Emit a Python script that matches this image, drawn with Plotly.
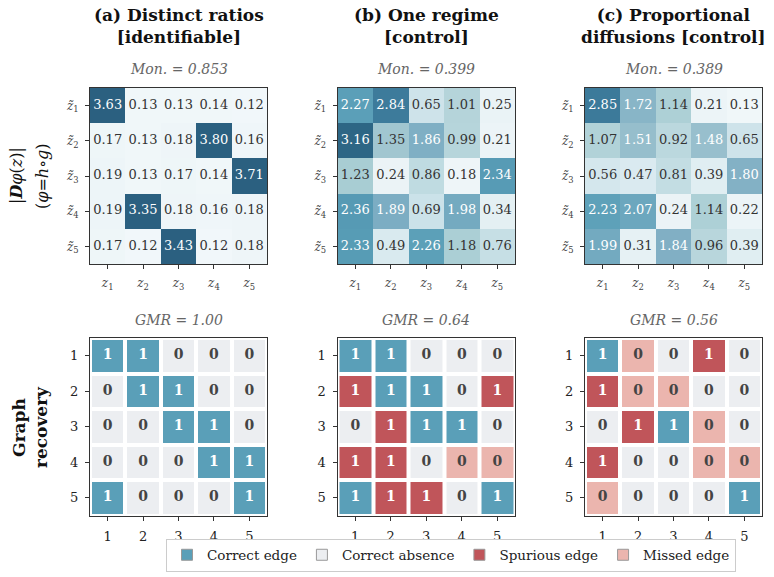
import plotly.graph_objects as go

# ---------------- data ----------------
titles = ["(a) Distinct ratios<br>[identifiable]",
          "(b) One regime<br>[control]",
          "(c) Proportional<br>diffusions [control]"]
mon_scores = [0.853, 0.399, 0.389]
gmr_scores = [1.00, 0.64, 0.56]

jac_a = [[3.63, 0.13, 0.13, 0.14, 0.12],
         [0.17, 0.13, 0.18, 3.80, 0.16],
         [0.19, 0.13, 0.17, 0.14, 3.71],
         [0.19, 3.35, 0.18, 0.16, 0.18],
         [0.17, 0.12, 3.43, 0.12, 0.18]]
jac_b = [[2.27, 2.84, 0.65, 1.01, 0.25],
         [3.16, 1.35, 1.86, 0.99, 0.21],
         [1.23, 0.24, 0.86, 0.18, 2.34],
         [2.36, 1.89, 0.69, 1.98, 0.34],
         [2.33, 0.49, 2.26, 1.18, 0.76]]
jac_c = [[2.85, 1.72, 1.14, 0.21, 0.13],
         [1.07, 1.51, 0.92, 1.48, 0.65],
         [0.56, 0.47, 0.81, 0.39, 1.80],
         [2.23, 2.07, 0.24, 1.14, 0.22],
         [1.99, 0.31, 1.84, 0.96, 0.39]]
jacobians = [jac_a, jac_b, jac_c]

true_graph = [[1, 1, 0, 0, 0],
              [0, 1, 1, 0, 0],
              [0, 0, 1, 1, 0],
              [0, 0, 0, 1, 1],
              [1, 0, 0, 0, 1]]
pred_a = [[1, 1, 0, 0, 0],
          [0, 1, 1, 0, 0],
          [0, 0, 1, 1, 0],
          [0, 0, 0, 1, 1],
          [1, 0, 0, 0, 1]]
pred_b = [[1, 1, 0, 0, 0],
          [1, 1, 1, 0, 1],
          [0, 1, 1, 1, 0],
          [1, 1, 0, 0, 0],
          [1, 1, 1, 0, 1]]
pred_c = [[1, 0, 0, 1, 0],
          [1, 0, 0, 0, 0],
          [0, 1, 1, 0, 0],
          [1, 0, 0, 0, 0],
          [0, 0, 0, 0, 1]]
predictions = [pred_a, pred_b, pred_c]

idx = [1, 2, 3, 4, 5]
top_xticks = ["<i>z</i><sub>%d</sub>" % i for i in idx]
top_yticks = ["<i>z̃</i><sub>%d</sub>" % i for i in idx]
bot_ticks = [str(i) for i in idx]
legend_names = ["Correct edge", "Correct absence", "Spurious edge", "Missed edge"]

# ---------------- styling ----------------
W, H = 774, 577
FONT = "DejaVu Serif"
C_EDGE = "#5a9fb8"
C_ABS = "#eceef1"
C_SPUR = "#c0555a"
C_MISS = "#ebb5ae"
cat_colors = [C_EDGE, C_ABS, C_SPUR, C_MISS]  # codes 0..3

blues = [[0.0, "#f7fbfd"], [0.076, "#eaf3f6"], [0.2, "#cde3ea"], [0.3, "#b6d5db"],
         [0.373, "#a8cdd3"], [0.45, "#98bfcd"], [0.56, "#80afc4"], [0.69, "#5a9fb8"],
         [0.86, "#3d7b9b"], [0.96, "#2d6584"], [1.0, "#2b6080"]]
cat_scale = []
for k, c in enumerate(cat_colors):
    cat_scale += [[k / 4, c], [(k + 1) / 4, c]]

xdom = [(90, 267), (337.5, 515), (585, 762)]
ytop = (88, 264)
ybot = (338, 515.5)


def px(a, b):
    return [a / W, b / W]


def py(a, b):
    return [1 - b / H, 1 - a / H]


fig = go.Figure()

axis_common = dict(showgrid=False, zeroline=False, ticks="outside", ticklen=4,
                   tickcolor="#333", showline=True, mirror=True, linecolor="#333",
                   linewidth=1, tickmode="array", tickvals=idx, range=[0.5, 5.5],
                   fixedrange=True)

for p in range(3):
    n_top = p + 1
    n_bot = p + 4
    xa_t = "x" if n_top == 1 else "x%d" % n_top
    ya_t = "y" if n_top == 1 else "y%d" % n_top
    xa_b = "x%d" % n_bot
    ya_b = "y%d" % n_bot
    J = jacobians[p]
    fig.add_trace(go.Heatmap(z=J, x=idx, y=idx, colorscale=blues, zmin=0, zmax=3.3,
                             showscale=False, xaxis=xa_t, yaxis=ya_t, hoverinfo="skip"))
    tx_w, ty_w, tt_w, tx_d, ty_d, tt_d = [], [], [], [], [], []
    for r in range(5):
        for c in range(5):
            v = J[r][c]
            if v > 1.45:
                tx_w.append(c + 1); ty_w.append(r + 1); tt_w.append("%.2f" % v)
            else:
                tx_d.append(c + 1); ty_d.append(r + 1); tt_d.append("%.2f" % v)
    fig.add_trace(go.Scatter(x=tx_w, y=ty_w, text=tt_w, mode="text", showlegend=False,
                             textfont=dict(family=FONT, size=13, color="white"),
                             xaxis=xa_t, yaxis=ya_t, hoverinfo="skip"))
    fig.add_trace(go.Scatter(x=tx_d, y=ty_d, text=tt_d, mode="text", showlegend=False,
                             textfont=dict(family=FONT, size=13, color="#333"),
                             xaxis=xa_t, yaxis=ya_t, hoverinfo="skip"))

    P = predictions[p]
    cats = []
    for r in range(5):
        row = []
        for c in range(5):
            t, q = true_graph[r][c], P[r][c]
            if t == 1 and q == 1:
                row.append(0)
            elif t == 0 and q == 0:
                row.append(1)
            elif t == 0 and q == 1:
                row.append(2)
            else:
                row.append(3)
        cats.append(row)
    fig.add_trace(go.Heatmap(z=cats, x=idx, y=idx, colorscale=cat_scale, zmin=-0.5, zmax=3.5,
                             showscale=False, xgap=4, ygap=4, xaxis=xa_b, yaxis=ya_b,
                             hoverinfo="skip"))
    bx_w, by_w, bt_w, bx_d, by_d, bt_d = [], [], [], [], [], []
    for r in range(5):
        for c in range(5):
            if cats[r][c] in (0, 2):
                bx_w.append(c + 1); by_w.append(r + 1); bt_w.append("<b>%d</b>" % P[r][c])
            else:
                bx_d.append(c + 1); by_d.append(r + 1); bt_d.append("<b>%d</b>" % P[r][c])
    fig.add_trace(go.Scatter(x=bx_w, y=by_w, text=bt_w, mode="text", showlegend=False,
                             textfont=dict(family=FONT, size=14, color="white"),
                             xaxis=xa_b, yaxis=ya_b, hoverinfo="skip"))
    fig.add_trace(go.Scatter(x=bx_d, y=by_d, text=bt_d, mode="text", showlegend=False,
                             textfont=dict(family=FONT, size=14, color="#444"),
                             xaxis=xa_b, yaxis=ya_b, hoverinfo="skip"))

    key_xt = "xaxis" if n_top == 1 else "xaxis%d" % n_top
    key_yt = "yaxis" if n_top == 1 else "yaxis%d" % n_top
    fig.layout[key_xt] = dict(axis_common, domain=px(*xdom[p]), anchor=ya_t,
                              ticktext=top_xticks, ticklabelstandoff=4,
                              tickfont=dict(family=FONT, size=12, color="#444"))
    fig.layout[key_yt] = dict(axis_common, domain=py(*ytop), anchor=xa_t,
                              ticktext=top_yticks, autorange=False, range=[5.5, 0.5],
                              ticklabelstandoff=4,
                              tickfont=dict(family=FONT, size=12, color="#444"))
    fig.layout["xaxis%d" % n_bot] = dict(axis_common, domain=px(*xdom[p]), anchor=ya_b,
                                         ticktext=bot_ticks, ticklabelstandoff=5,
                                         tickfont=dict(family=FONT, size=13, color="#222"))
    fig.layout["yaxis%d" % n_bot] = dict(axis_common, domain=py(*ybot), anchor=xa_b,
                                         ticktext=bot_ticks, autorange=False, range=[5.5, 0.5],
                                         ticklabelstandoff=4,
                                         tickfont=dict(family=FONT, size=13, color="#222"))

    cx = (xdom[p][0] + xdom[p][1]) / 2 / W
    fig.add_annotation(x=cx, y=1 - 26 / H, xref="paper", yref="paper", showarrow=False,
                       text="<b>%s</b>" % titles[p], xanchor="center", yanchor="middle",
                       font=dict(family=FONT, size=17, color="#111"))
    fig.add_annotation(x=cx, y=1 - 69 / H, xref="paper", yref="paper", showarrow=False,
                       text="<i>Mon. = %.3f</i>" % mon_scores[p], xanchor="center",
                       yanchor="middle", font=dict(family=FONT, size=14, color="#666"))
    fig.add_annotation(x=cx, y=1 - 320 / H, xref="paper", yref="paper", showarrow=False,
                       text="<i>GMR = %.2f</i>" % gmr_scores[p], xanchor="center",
                       yanchor="middle", font=dict(family=FONT, size=14, color="#666"))

# row labels
fig.add_annotation(x=16 / W, y=1 - 176 / H, xref="paper", yref="paper", showarrow=False,
                   text="|<b><i>D</i></b><i>φ</i>(<i>z</i>)|", textangle=-90,
                   xanchor="center", yanchor="middle",
                   font=dict(family=FONT, size=16, color="#111"))
fig.add_annotation(x=42 / W, y=1 - 176 / H, xref="paper", yref="paper", showarrow=False,
                   text="(<i>φ</i>=<i>h</i>∘<i>g</i>)", textangle=-90,
                   xanchor="center", yanchor="middle",
                   font=dict(family=FONT, size=16, color="#111"))
fig.add_annotation(x=30 / W, y=1 - 427 / H, xref="paper", yref="paper", showarrow=False,
                   text="<b>Graph<br>recovery</b>", textangle=-90,
                   xanchor="center", yanchor="middle",
                   font=dict(family=FONT, size=17, color="#111"))

for name, col in zip(legend_names, cat_colors):
    fig.add_trace(go.Scatter(x=[None], y=[None], mode="markers", name=name,
                             marker=dict(symbol="square", size=11, color=col,
                                         line=dict(color="#999", width=1))))

fig.update_layout(
    width=W, height=H, margin=dict(l=0, r=0, t=0, b=0),
    paper_bgcolor="white", plot_bgcolor="white",
    font=dict(family=FONT, size=13, color="#222"),
    showlegend=True,
    legend=dict(orientation="h", x=451 / W, xanchor="center", y=1 - 555 / H,
                yanchor="middle", bordercolor="#ccc", borderwidth=1,
                font=dict(family=FONT, size=13.5, color="#222"), itemwidth=30,
                tracegroupgap=0),
)

fig.write_html("out.html")
